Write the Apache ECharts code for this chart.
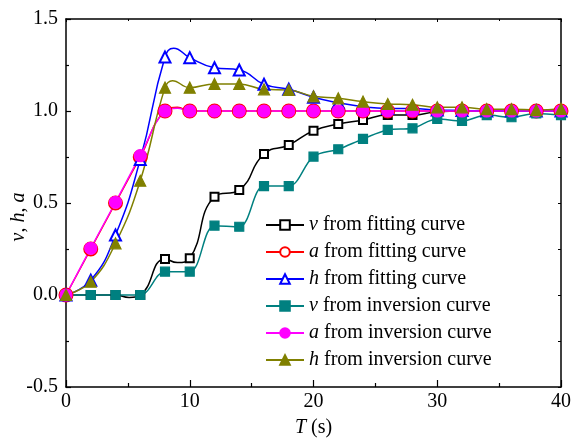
<!DOCTYPE html>
<html>
<head>
<meta charset="utf-8">
<script src="https://cdn.jsdelivr.net/npm/echarts@6/dist/echarts.min.js"></script>
<style>
  html, body { margin: 0; padding: 0; background: #fff; }
  #chart { width: 571px; height: 439px; }
</style>
</head>
<body>
<div id="chart"></div>
<script>
// Sampling times of the marked points (s)
const timeS = [0, 2, 4, 6, 8, 10, 12, 14, 16, 18, 20, 22, 24, 26, 28, 30, 32, 34, 36, 38, 40];

// Normalised responses from the fitting curves (at the marked times)
const vFit = [0, 0, 0, 0, 0.196, 0.2, 0.534, 0.571, 0.766, 0.815, 0.893, 0.929, 0.951, 0.978, 0.978, 0.996, 1.0, 1.0, 1.0, 1.0, 1.0];
const aFit = [0, 0.25, 0.5, 0.75, 1.0, 1.0, 1.0, 1.0, 1.0, 1.0, 1.0, 1.0, 1.0, 1.0, 1.0, 1.0, 1.0, 1.0, 1.0, 1.0, 1.0];
const hFit = [0, 0.08, 0.326, 0.737, 1.293, 1.29, 1.235, 1.223, 1.145, 1.118, 1.075, 1.045, 1.023, 1.014, 1.014, 1.005, 1.003, 1.0, 1.0, 1.0, 1.0];

// Normalised responses from the inversion curves (at the marked times)
const vInv = [0, 0, 0, 0, 0.127, 0.127, 0.377, 0.371, 0.592, 0.592, 0.752, 0.792, 0.848, 0.897, 0.906, 0.957, 0.946, 0.978, 0.966, 0.987, 0.978];
const aInv = [0, 0.254, 0.504, 0.757, 1.0, 1.0, 1.0, 1.0, 1.0, 1.0, 1.0, 1.0, 1.0, 1.0, 1.0, 1.0, 1.0, 1.0, 1.0, 1.0, 1.0];
const hInv = [0, 0.072, 0.281, 0.621, 1.127, 1.127, 1.147, 1.147, 1.118, 1.114, 1.08, 1.069, 1.051, 1.038, 1.034, 1.02, 1.02, 1.01, 1.01, 1.005, 1.012];

// Extra points on the curves between markers (turning points of the smooth lines)
const vFitBendT = [5.1, 9];
const vFitBendV = [-0.013, 0.176];
const aFitBendT = [9];
const aFitBendV = [1.02];
const hFitBendT = [8.7];
const hFitBendV = [1.341];
const aInvBendT = [9];
const aInvBendV = [1.015];
const hInvBendT = [8.6];
const hInvBendV = [1.165];

// Axis ranges and ticks
const xTicks = [0, 10, 20, 30, 40];
const yTicks = [-0.5, 0.0, 0.5, 1.0, 1.5];

const serif = 'Liberation Serif';

function buildData(values, bendT, bendV) {
  const pts = timeS.map((t, i) => ({ value: [t, values[i]] }));
  (bendT || []).forEach((t, i) => pts.push({ value: [t, bendV[i]], symbol: 'none' }));
  pts.sort((p, q) => p.value[0] - q.value[0]);
  return pts;
}

function makeSeries(name, data, color, symbol, size, smooth) {
  return {
    name: name,
    type: 'line',
    data: data,
    smooth: smooth,
    symbol: symbol,
    symbolSize: size,
    showAllSymbol: true,
    color: color,
    lineStyle: { color: color, width: 1.5 },
    itemStyle: { color: color, borderColor: color, borderWidth: 1.2 },
    emphasis: { disabled: true },
    animation: false
  };
}

const series = [
  makeSeries('v from fitting curve', buildData(vFit, vFitBendT, vFitBendV), '#000000', 'emptyRect', 8, 0.5),
  makeSeries('a from fitting curve', buildData(aFit, aFitBendT, aFitBendV), '#ff0000', 'emptyCircle', 13, 0.5),
  makeSeries('h from fitting curve', buildData(hFit, hFitBendT, hFitBendV), '#0000ff', 'emptyTriangle', 11, 0.5),
  makeSeries('v from inversion curve', buildData(vInv), '#008080', 'rect', 9, 0.35),
  makeSeries('a from inversion curve', buildData(aInv, aInvBendT, aInvBendV), '#ff00ff', 'circle', 12, 0.4),
  makeSeries('h from inversion curve', buildData(hInv, hInvBendT, hInvBendV), '#808000', 'triangle', 11, 0.45)
];

const axisLineStyle = { color: '#000', width: 1.5 };
const richText = {
  i: { fontFamily: serif, fontSize: 20, fontStyle: 'italic', color: '#000' },
  t: { fontFamily: serif, fontSize: 20, color: '#000' }
};

const chart = echarts.init(document.getElementById('chart'), null, { renderer: 'canvas' });
chart.setOption({
  backgroundColor: '#ffffff',
  animation: false,
  grid: { left: 66, right: 10, top: 19, bottom: 52, containLabel: false, outerBoundsMode: 'none' },
  legend: {
    orient: 'vertical',
    left: 265,
    top: 215,
    padding: 0,
    itemWidth: 38,
    itemHeight: 12,
    itemGap: 7,
    data: series.map(s => s.name),
    formatter: name => '{i|' + name.charAt(0) + '}{t|' + name.slice(1) + '}',
    textStyle: { fontFamily: serif, fontSize: 20, color: '#000', rich: richText },
    selectedMode: false
  },
  xAxis: [
    {
      type: 'value',
      position: 'bottom',
      min: xTicks[0],
      max: xTicks[xTicks.length - 1],
      interval: 10,
      name: '{i|T}{t| (s)}',
      nameLocation: 'middle',
      nameGap: 31,
      nameMoveOverlap: false,
      nameTextStyle: { fontFamily: serif, fontSize: 20, color: '#000', rich: richText },
      axisLine: { show: true, onZero: false, lineStyle: axisLineStyle },
      axisTick: { show: true, inside: true, length: 7, lineStyle: { color: '#000', width: 1.2 } },
      minorTick: { show: true, splitNumber: 2, length: 4, lineStyle: { color: '#000', width: 1.2 } },
      axisLabel: { fontFamily: serif, fontSize: 20, color: '#000', margin: 5 },
      splitLine: { show: false }
    },
    {
      type: 'value',
      position: 'top',
      min: xTicks[0],
      max: xTicks[xTicks.length - 1],
      interval: 10,
      axisLine: { show: true, onZero: false, lineStyle: axisLineStyle },
      axisTick: { show: true, inside: true, length: 3, lineStyle: { color: '#000', width: 1 } },
      minorTick: { show: true, splitNumber: 2, length: 2, lineStyle: { color: '#000', width: 1 } },
      axisLabel: { show: false },
      splitLine: { show: false }
    }
  ],
  yAxis: [
    {
      type: 'value',
      position: 'left',
      min: yTicks[0],
      max: yTicks[yTicks.length - 1],
      interval: 0.5,
      name: '{i|v}{t|, }{i|h}{t|, }{i|a}',
      nameLocation: 'middle',
      nameGap: 37,
      nameMoveOverlap: false,
      nameTextStyle: {
        fontFamily: serif, fontSize: 20, color: '#000',
        padding: [0, 28, 0, 0],
        rich: richText
      },
      axisLine: { show: true, onZero: false, lineStyle: axisLineStyle },
      axisTick: { show: true, inside: true, length: 5, lineStyle: { color: '#000', width: 1.2 } },
      minorTick: { show: true, splitNumber: 2, length: 3, lineStyle: { color: '#000', width: 1.2 } },
      axisLabel: { fontFamily: serif, fontSize: 20, color: '#000', margin: 8, formatter: v => v.toFixed(1) },
      splitLine: { show: false }
    },
    {
      type: 'value',
      position: 'right',
      min: yTicks[0],
      max: yTicks[yTicks.length - 1],
      interval: 0.5,
      axisLine: { show: true, onZero: false, lineStyle: axisLineStyle },
      axisTick: { show: true, inside: true, length: 3, lineStyle: { color: '#000', width: 1 } },
      minorTick: { show: true, splitNumber: 2, length: 3, lineStyle: { color: '#000', width: 1 } },
      axisLabel: { show: false },
      splitLine: { show: false }
    }
  ],
  series: series
});
</script>
</body>
</html>
